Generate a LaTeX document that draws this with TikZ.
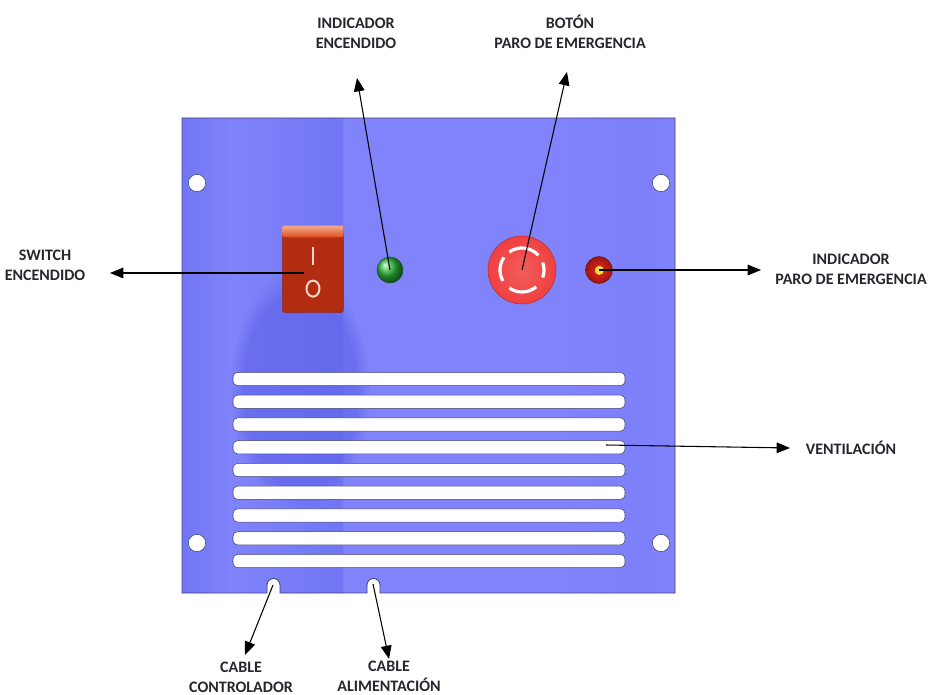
\documentclass[tikz,border=0pt]{standalone}
\usepackage{fontspec}
\setmainfont{Carlito}
\usetikzlibrary{arrows.meta,positioning,shapes.geometric,fadings}
\definecolor{CpPanel}{RGB}{128,131,250}
\definecolor{CpPanelMid}{RGB}{112,118,244}
\definecolor{CpPanelDark}{RGB}{92,98,232}
\definecolor{CpEdge}{RGB}{66,68,116}
\definecolor{CpSwitch}{RGB}{222,78,32}
\definecolor{CpSwitchDark}{RGB}{178,44,18}
\definecolor{CpSwitchTop}{RGB}{242,172,142}
\definecolor{CpMark}{RGB}{252,214,200}
\definecolor{CpStop}{RGB}{240,64,64}
\definecolor{CpGreen}{RGB}{44,185,60}
\definecolor{CpRed}{RGB}{228,30,22}
\definecolor{CpGlow}{RGB}{250,220,60}
\definecolor{CpText}{RGB}{38,38,46}
\tikzset{
  cp/hole/.style={
    circle,
    draw=CpEdge,
    fill=white,
    minimum size=13pt,
    inner sep=0pt
  },
  cp/slot/.style={
    draw=CpEdge,
    fill=white,
    rounded corners=3.5pt,
    minimum width=294pt,
    minimum height=10pt,
    inner sep=0pt
  },
  cp/switch/.style={
    draw=CpSwitchDark!80!black,
    left color=CpSwitchDark,
    middle color=CpSwitch,
    right color=CpSwitchDark,
    rounded corners=1.5pt,
    minimum width=45.5pt,
    minimum height=65pt,
    inner sep=0pt
  },
  cp/led/.style={
    circle,
    draw=#1!45!black,
    ball color=#1,
    minimum size=19.5pt,
    inner sep=0pt
  },
  cp/lamp/.style={
    circle,
    draw=CpRed!45!black,
    inner color=CpRed!95!white,
    outer color=CpRed!70!black,
    minimum size=20pt,
    inner sep=0pt
  },
  cp/stop/.style={
    circle,
    draw=CpStop!75!black,
    inner color=CpStop!85!white,
    outer color=CpStop,
    minimum size=51pt,
    inner sep=0pt
  },
  cp/label/.style={
    font=\bfseries\fontsize{12}{15}\selectfont,
    text=CpText,
    align=center,
    inner sep=1pt
  },
  cp/arrow/.style={-{Triangle[length=10pt,width=8pt]}, line width=0.8pt, draw=black}
}

\begin{document}
\begin{tikzpicture}[x=0.75pt,y=-0.75pt]
  \useasboundingbox (0,0) rectangle (929,695);

  % front plate with the two cable notches
  \def\platepath{(182,118) -- (675,118) -- (675,593) -- (380,593) -- (380,585)
    arc[start angle=0, end angle=-180, radius=6.5] -- (367,593) -- (280,593) -- (280,585)
    arc[start angle=0, end angle=-180, radius=6.5] -- (267,593) -- (182,593) -- cycle}
  \begin{scope}
    \clip \platepath;
    \fill[CpPanel] (182,118) rectangle (675,593);
    \shade[left color=CpPanelMid, right color=CpPanel] (182,118) rectangle (232,593);
    \shade[left color=CpPanel, right color=CpPanelMid] (232,118) rectangle (343,593);
    \fill[CpPanelDark, path fading=circle with fuzzy edge 20 percent, opacity=0.6]
      (300,390) ellipse[x radius=70, y radius=120];
    \shade[left color=CpPanel, right color=CpPanel!90!CpPanelDark] (560,118) rectangle (640,593);
    \shade[left color=CpPanel!90!CpPanelDark, right color=CpPanel] (640,118) rectangle (675,593);
  \end{scope}
  \draw[CpEdge, line width=0.6pt] \platepath;

  % fixing holes
  \node[cp/hole] (holeTL) at (197,183) {};
  \node[cp/hole] (holeTR) at (661,183) {};
  \node[cp/hole] (holeBL) at (197,543) {};
  \node[cp/hole] (holeBR) at (661,543) {};

  % rocker switch
  \node[cp/switch] (switch) at (313,269) {};
  \shade[top color=CpSwitchTop, bottom color=CpSwitch, rounded corners=1.5pt]
    (switch.north west) rectangle ([yshift=-9pt]switch.north east);
  \draw[CpMark, line width=1.8pt] ([yshift=-16pt]switch.north) -- ([yshift=-30pt]switch.north);
  \draw[CpMark, line width=1.5pt] ([yshift=18pt]switch.south) ellipse[x radius=6.5, y radius=8];

  % pilot lights and emergency stop
  \node[cp/led=CpGreen] (greenled) at (390,270) {};
  \node[cp/stop] (estop) at (522,270) {};
  \foreach \a/\b in {50/125, 150/215, 235/318, 340/380}
    \draw[white, line width=2.4pt] (estop.center) ++(\a:22) arc[start angle=\a, end angle=\b, radius=22];
  \node[cp/lamp] (redled) at (599,270) {};
  \fill[CpGlow, path fading=circle with fuzzy edge 15 percent] (redled.center) circle[radius=5];

  % ventilation slots
  \foreach \i in {1,...,9}
    \node[cp/slot] (slot\i) at (429,{379+22.75*(\i-1)}) {};

  % labels
  \node[cp/label] (lblSwitch) at (45,265) {SWITCH\\ENCENDIDO};
  \node[cp/label] (lblIndOn) at (356,33) {INDICADOR\\ENCENDIDO};
  \node[cp/label] (lblStop) at (570,32) {BOTÓN\\PARO DE EMERGENCIA};
  \node[cp/label] (lblIndStop) at (851,269) {INDICADOR\\PARO DE EMERGENCIA};
  \node[cp/label] (lblVent) at (851,448) {VENTILACIÓN};
  \node[cp/label] (lblCtrl) at (241,677) {CABLE\\CONTROLADOR};
  \node[cp/label] (lblPower) at (389,676) {CABLE\\ALIMENTACIÓN};

  % arrow ends
  \coordinate (swpt) at (304,273);
  \coordinate (ventpt) at (606,445);
  \coordinate (notchCtrl) at (273,585);
  \coordinate (notchPower) at (373,584);
  \coordinate (tipSwitch) at (110,273);
  \coordinate (tipIndOn) at (357,78);
  \coordinate (tipStop) at (567,72);
  \coordinate (tipIndStop) at (761,270);
  \coordinate (tipVent) at (790,448);
  \coordinate (tipCtrl) at (245,655);
  \coordinate (tipPower) at (389,659);

  \draw[cp/arrow] (swpt) -- (tipSwitch);
  \draw[cp/arrow] (greenled.center) -- (tipIndOn);
  \draw[cp/arrow] (estop.center) -- (tipStop);
  \draw[cp/arrow] (redled.center) -- (tipIndStop);
  \draw[cp/arrow] (ventpt) -- (tipVent);
  \draw[cp/arrow] (notchCtrl) -- (tipCtrl);
  \draw[cp/arrow] (notchPower) -- (tipPower);
\end{tikzpicture}
\end{document}
